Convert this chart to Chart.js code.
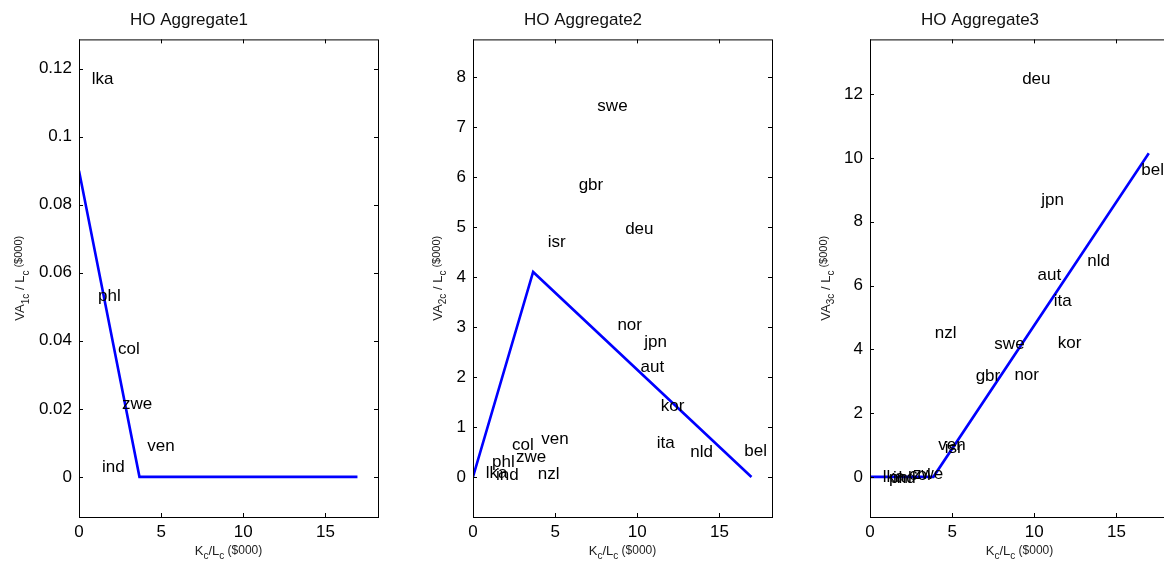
<!DOCTYPE html>
<html>
<head>
<meta charset="utf-8">
<title>HO Aggregates</title>
<script src="https://cdn.jsdelivr.net/npm/chart.js@4.4.1/dist/chart.umd.min.js"></script>
<style>
    html, body { margin: 0; padding: 0; background: #fff; width: 1164px; height: 565px; overflow: hidden; }
    .panel { position: absolute; top: 0; width: 390px; height: 565px; }
</style>
</head>
<body>
<div class="panel" style="left:0px"><canvas id="ho1"></canvas></div>
<div class="panel" style="left:394px"><canvas id="ho2"></canvas></div>
<div class="panel" style="left:791px"><canvas id="ho3"></canvas></div>
<script>
// Countries and capital per worker K_c/L_c ($000), shared by all panels
const countries = ['lka', 'ind', 'phl', 'col', 'zwe', 'ven', 'nzl', 'isr', 'gbr', 'swe',
                   'nor', 'deu', 'aut', 'jpn', 'ita', 'kor', 'nld', 'bel'];
const capitalPerWorker = [0.78, 1.4, 1.16, 2.38, 2.62, 4.16, 3.94, 4.55, 6.43, 7.57,
                          8.79, 9.26, 10.2, 10.42, 11.18, 11.43, 13.23, 16.51];

// Value added per worker by aggregate (null = country not shown)
const va1 = [0.117, 0.0028, 0.0531, 0.0374, 0.0212, 0.0091, null, null, null, null,
             null, null, null, null, null, null, null, null];
const va2 = [0.07, 0.03, 0.30, 0.64, 0.39, 0.75, 0.05, 4.69, 5.84, 7.41,
             3.03, 4.95, 2.2, 2.69, 0.67, 1.42, 0.50, 0.52];
const va3 = [0.0, -0.05, -0.05, 0.05, 0.08, 1.0, 4.51, 0.88, 3.14, 4.17,
             3.17, 12.47, 6.33, 8.67, 5.5, 4.19, 6.75, 9.61];

// Fitted HO lines (kinks)
const lineX1 = [0, 3.68, 16.95];
const lineY1 = [0.09, 0, 0];
const lineX2 = [0, 3.66, 16.95];
const lineY2 = [0, 4.1, 0];
const lineX3 = [0, 3.86, 16.97];
const lineY3 = [0, 0, 10.15];

// Tick labels
const xTicks = [0, 5, 10, 15];
const yTicks1 = [0, 0.02, 0.04, 0.06, 0.08, 0.1, 0.12];
const yTickLabels1 = ['0', '0.02', '0.04', '0.06', '0.08', '0.1', '0.12'];
const yTicks2 = [0, 1, 2, 3, 4, 5, 6, 7, 8];
const yTicks3 = [0, 2, 4, 6, 8, 10, 12];

const FONT = '"Liberation Sans", Arial, Helvetica, sans-serif';

/**
 * Draw a run of text pieces (with sub/superscripts) centred on 0,0
 */
function drawRichText(ctx, parts) {
    let total = 0;
    parts.forEach(p => {
        ctx.font = p.size + 'px ' + FONT;
        p.w = ctx.measureText(p.t).width;
        total += p.w;
    });
    let x = -total / 2;
    parts.forEach(p => {
        ctx.font = p.size + 'px ' + FONT;
        ctx.fillText(p.t, x, p.dy || 0);
        x += p.w;
    });
}

/**
 * MATLAB-like axes: country labels, box, inward ticks, axis titles
 */
const matlabAxes = {
    id: 'matlabAxes',
    afterDatasetsDraw(chart, args, opts) {
        const ctx = chart.ctx;
        const { left, right, top, bottom } = chart.chartArea;
        const xs = chart.scales.x;
        const ys = chart.scales.y;
        ctx.save();

        // country labels, left aligned and vertically centred on the point
        ctx.fillStyle = '#000';
        ctx.font = '17px ' + FONT;
        ctx.textAlign = 'left';
        ctx.textBaseline = 'middle';
        chart.data.datasets[1].data.forEach(p => {
            ctx.fillText(p.name, xs.getPixelForValue(p.x), ys.getPixelForValue(p.y));
        });

        // frame
        ctx.strokeStyle = '#000';
        ctx.lineWidth = 1;
        ctx.strokeRect(left + 0.5, top + 0.5, right - left, bottom - top);

        // inward tick marks on all four sides
        const tl = 4;
        ctx.beginPath();
        xs.ticks.forEach(t => {
            const px = Math.round(xs.getPixelForValue(t.value)) + 0.5;
            ctx.moveTo(px, bottom); ctx.lineTo(px, bottom - tl);
            ctx.moveTo(px, top); ctx.lineTo(px, top + tl);
        });
        ys.ticks.forEach(t => {
            const py = Math.round(ys.getPixelForValue(t.value)) + 0.5;
            ctx.moveTo(left, py); ctx.lineTo(left + tl, py);
            ctx.moveTo(right, py); ctx.lineTo(right - tl, py);
        });
        ctx.stroke();

        // y title, placed just left of the widest tick label
        ctx.font = '17px ' + FONT;
        const widest = Math.max(...ys.ticks.map(t => ctx.measureText(t.label).width));
        const cx = left - 7 - widest - 18;
        const cy = (top + bottom) / 2;
        ctx.textAlign = 'left';
        ctx.textBaseline = 'middle';
        ctx.fillStyle = '#222';
        ctx.save();
        ctx.translate(cx, cy);
        ctx.rotate(-Math.PI / 2);
        drawRichText(ctx, [
            { t: 'VA', size: 13 },
            { t: opts.sub, size: 10, dy: 5 },
            { t: ' / L', size: 13 },
            { t: 'c', size: 10, dy: 5 },
            { t: ' ($000)', size: 11, dy: -2 }
        ]);
        ctx.restore();

        // x title
        ctx.save();
        ctx.translate((left + right) / 2, 551);
        drawRichText(ctx, [
            { t: 'K', size: 13 },
            { t: 'c', size: 10, dy: 5 },
            { t: '/L', size: 13 },
            { t: 'c', size: 10, dy: 5 },
            { t: ' ($000)', size: 12 }
        ]);
        ctx.restore();

        ctx.restore();
    }
};

/**
 * Create one HO aggregate panel
 */
function createPanel(canvasId, title, sub, lineX, lineY, values, yMin, yMax, yTicks, yLabels) {
    const ctx = document.getElementById(canvasId);
    const linePoints = lineX.map((x, i) => ({ x: x, y: lineY[i] }));
    const labelPoints = [];
    countries.forEach((c, i) => {
        if (values[i] === null) return;
        labelPoints.push({ x: capitalPerWorker[i], y: values[i], name: c });
    });

    return new Chart(ctx, {
        type: 'scatter',
        data: {
            datasets: [{
                label: 'HO fit',
                data: linePoints,
                showLine: true,
                borderColor: '#0000ff',
                borderWidth: 2.6,
                pointRadius: 0,
                fill: false
            }, {
                label: 'countries',
                data: labelPoints,
                pointRadius: 0,
                showLine: false
            }]
        },
        options: {
            responsive: true,
            maintainAspectRatio: false,
            animation: false,
            layout: { padding: { left: 0, right: 12, top: 0, bottom: 0 } },
            plugins: {
                legend: { display: false },
                tooltip: { enabled: false },
                title: {
                    display: true,
                    text: title,
                    color: '#111',
                    font: { family: FONT, size: 17, weight: 'normal' },
                    padding: { top: 10, bottom: 9 }
                },
                matlabAxes: { sub: sub }
            },
            scales: {
                x: {
                    type: 'linear',
                    min: 0,
                    max: 18.2,
                    afterBuildTicks: scale => { scale.ticks = xTicks.map(v => ({ value: v })); },
                    afterFit: scale => { scale.height = 48; },
                    ticks: {
                        color: '#000',
                        padding: 5,
                        font: { family: FONT, size: 17 },
                        callback: v => String(v)
                    },
                    grid: { display: false, drawTicks: false },
                    border: { display: false }
                },
                y: {
                    type: 'linear',
                    min: yMin,
                    max: yMax,
                    afterBuildTicks: scale => { scale.ticks = yTicks.map(v => ({ value: v })); },
                    afterFit: scale => { scale.width = 79; },
                    ticks: {
                        color: '#000',
                        padding: 7,
                        font: { family: FONT, size: 17 },
                        callback: v => {
                            const k = yTicks.indexOf(v);
                            return yLabels && k >= 0 ? yLabels[k] : String(v);
                        }
                    },
                    grid: { display: false, drawTicks: false },
                    border: { display: false }
                }
            }
        },
        plugins: [matlabAxes]
    });
}

createPanel('ho1', 'HO Aggregate1', '1c', lineX1, lineY1, va1, -0.0118, 0.1286, yTicks1, yTickLabels1);
createPanel('ho2', 'HO Aggregate2', '2c', lineX2, lineY2, va2, -0.80, 8.75, yTicks2, null);
createPanel('ho3', 'HO Aggregate3', '3c', lineX3, lineY3, va3, -1.26, 13.72, yTicks3, null);
</script>
</body>
</html>
